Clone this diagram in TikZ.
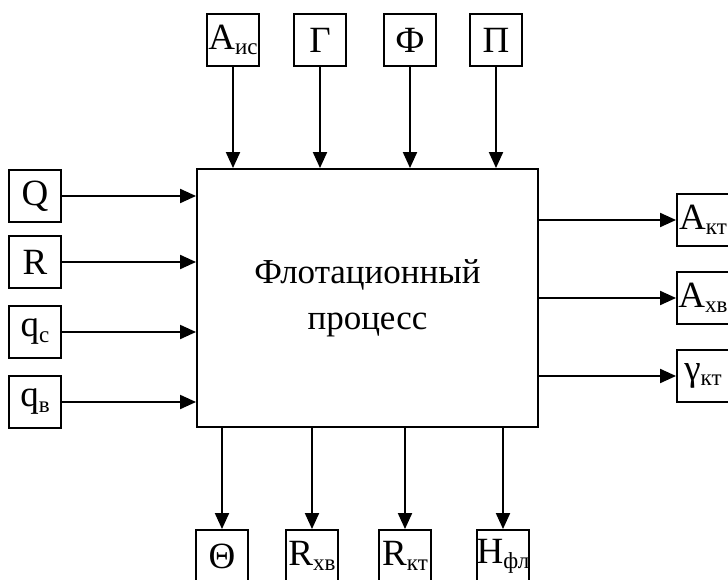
\documentclass[tikz,border=0pt]{standalone}
\usepackage{fontspec}
\setmainfont{Liberation Serif}
\usetikzlibrary{arrows.meta}
\newcommand\sbx[1]{\raisebox{-0.3ex}{\fontsize{23}{23}\selectfont #1}}
\begin{document}
\begin{tikzpicture}[x=1pt,y=-1pt,
  lbl/.style={draw,line width=1.9pt,minimum width=52pt,minimum height=52pt,inner sep=0pt,font=\fontsize{37}{37}\selectfont},
  conn/.style={line width=2pt,-{Triangle[length=16pt,width=14pt]}},
  mainbox/.style={draw,line width=1.9pt,minimum width=341pt,minimum height=258pt,align=center,font=\fontsize{35}{46}\selectfont}]
\useasboundingbox (0,0) rectangle (728,580);
\node[mainbox] (main) at (367.5,298) {Флотационный\\процесс};
% top
\node[lbl] (t1) at (233,40) {А\sbx{ис}};
\node[lbl] (t2) at (320,40) {Г};
\node[lbl] (t3) at (410,40) {Ф};
\node[lbl] (t4) at (496,40) {П};
% left
\node[lbl] (l1) at (35,196) {Q};
\node[lbl] (l2) at (35,262) {R};
\node[lbl] (l3) at (35,332) {q\sbx{с}};
\node[lbl] (l4) at (35,402) {q\sbx{в}};
% right
\node[lbl] (r1) at (703,220) {А\sbx{кт}};
\node[lbl] (r2) at (703,298) {А\sbx{хв}};
\node[lbl] (r3) at (703,376) {γ\sbx{кт}};
% bottom
\node[lbl] (b1) at (222,556) {Θ};
\node[lbl] (b2) at (312,556) {R\sbx{хв}};
\node[lbl] (b3) at (405,556) {R\sbx{кт}};
\node[lbl] (b4) at (503,556) {Н\sbx{фл}};
% connectors
\foreach \n in {t1,t2,t3,t4} \draw[conn] (\n.south) -- (\n.south |- main.north);
\foreach \n in {l1,l2,l3,l4} \draw[conn] (\n.east) -- (\n.east -| main.west);
\foreach \n in {r1,r2,r3} \draw[conn] (\n.west -| main.east) -- (\n.west);
\foreach \n in {b1,b2,b3,b4} \draw[conn] (\n.north |- main.south) -- (\n.north);
\end{tikzpicture}
\end{document}
